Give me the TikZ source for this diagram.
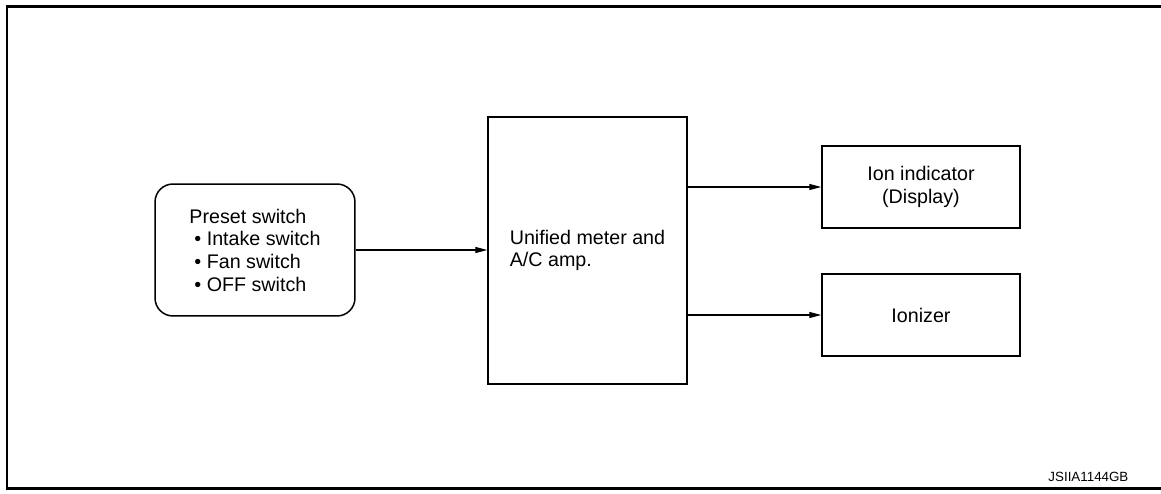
\documentclass[tikz,border=0pt]{standalone}
\usepackage{fontspec}
\setmainfont{Liberation Sans}
\usetikzlibrary{arrows.meta, positioning}
\tikzset{
  every picture/.style={font=\fontsize{11.2pt}{12.9pt}\selectfont, line width=0.85pt},
  box/.style={draw, rectangle, inner sep=0pt, minimum width=#1},
  box/.default=3.98cm,
  arrow/.style={-{Triangle[length=0.24cm, width=0.12cm]}, line width=0.7pt},
  frame/.style={line width=1.5pt},
  code/.style={font=\fontsize{7.6pt}{9pt}\selectfont, anchor=base east},
}

\begin{document}
\begin{tikzpicture}[x=0.02cm, y=-0.02cm]
  \useasboundingbox (0,0) rectangle (1161,494);
  \draw[frame] (1161,6.5) -- (7,6.5) -- (7,488.5) -- (1161,488.5);
  \node[box=4cm, minimum height=2.64cm, rounded corners=0.36cm, align=left] (preset) at (255,250)
    {Preset switch\\\hspace{0.1cm}\textbullet{} Intake switch\\\hspace{0.1cm}\textbullet{} Fan switch\\\hspace{0.1cm}\textbullet{} OFF switch};
  \node[box, minimum height=5.34cm, align=left] (unit) at (587.5,250.5) {Unified meter and\\A/C amp.};
  \node[box=3.96cm, minimum height=1.64cm, align=center] (ion) at (921,187) {Ion indicator\\(Display)};
  \node[box=3.96cm, minimum height=1.64cm] (ionizer) at (921,315) {Ionizer};
  \draw[arrow] (preset.east) -- (preset.east -| unit.west);
  \draw[arrow] (unit.east |- ion.west) -- (ion.west);
  \draw[arrow] (unit.east |- ionizer.west) -- (ionizer.west);
  \node[code] (ref) at (1135,481) {JSIIA1144GB};
\end{tikzpicture}
\end{document}
